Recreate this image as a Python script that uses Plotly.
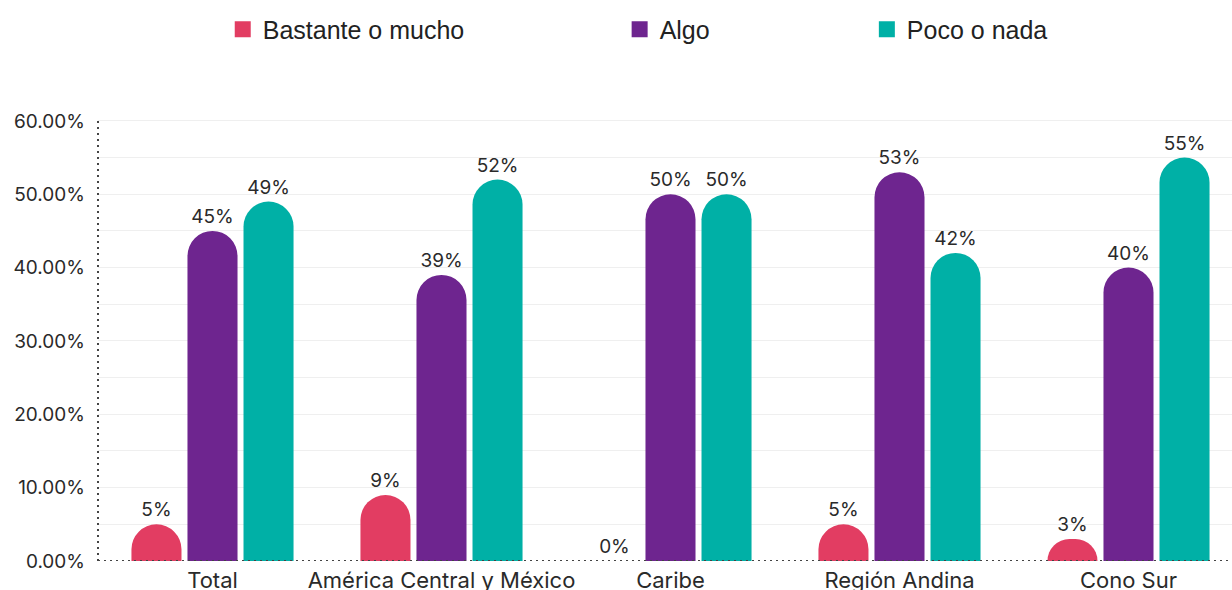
import plotly.graph_objects as go

regiones = ["Total", "América Central y México", "Caribe", "Región Andina", "Cono Sur"]
bastante_o_mucho = [5, 9, 0, 5, 3]
algo = [45, 39, 50, 53, 40]
poco_o_nada = [49, 52, 50, 42, 55]
series = [
    ("Bastante o mucho", bastante_o_mucho, "#E23D62"),
    ("Algo", algo, "#6E258F"),
    ("Poco o nada", poco_o_nada, "#00B0A6"),
]
y_ticks = [0, 10, 20, 30, 40, 50, 60]
y_tick_labels = ["0.00%", "10.00%", "20.00%", "30.00%", "40.00%", "50.00%", "60.00%"]

fig = go.Figure()

for name, vals, color in series:
    fig.add_trace(go.Bar(
        x=regiones, y=vals, name=name,
        marker=dict(color=color, cornerradius=25, line=dict(width=0)),
        texttemplate="%{y:.0f}%", textposition="outside",
        textfont=dict(family="Inter", size=19, color="#2a2a2a"),
        cliponaxis=False, constraintext="none", textangle=0,
        showlegend=False,
    ))

# legend entries, each placed in its own legend box
legend_ids = ["legend", "legend2", "legend3"]
legend_x = [0.110, 0.460, 0.678]
for (name, vals, color), lid in zip(series, legend_ids):
    fig.add_trace(go.Scatter(
        x=[None], y=[None], mode="markers", name=name,
        marker=dict(symbol="square", size=16, color=color),
        legend=lid, showlegend=True,
    ))

legend_style = dict(
    orientation="h", yanchor="middle", y=1.20, xanchor="left",
    font=dict(family="Liberation Sans", size=25, color="#222222"),
    bgcolor="rgba(0,0,0,0)", itemsizing="trace",
)
fig.update_layout(
    legend=dict(x=legend_x[0], **legend_style),
    legend2=dict(x=legend_x[1], **legend_style),
    legend3=dict(x=legend_x[2], **legend_style),
)

fig.update_layout(
    width=1232, height=590,
    margin=dict(l=98, r=0, t=118, b=29),
    plot_bgcolor="white", paper_bgcolor="white",
    barmode="group", bargap=0.266, bargroupgap=0.107,
    font=dict(family="Inter", color="#2a2a2a"),
    xaxis=dict(
        range=[-0.5, 4.452], showgrid=False, showline=False, zeroline=False,
        ticks="", tickfont=dict(family="Inter", size=22, color="#2a2a2a"),
        ticklabelstandoff=4, automargin=False,
    ),
    yaxis=dict(
        range=[0, 60.4], tickvals=y_ticks, ticktext=y_tick_labels,
        showgrid=True, gridcolor="#efefef", gridwidth=1,
        minor=dict(dtick=5, showgrid=True, gridcolor="#efefef", gridwidth=1),
        zeroline=False, showline=False, ticks="",
        tickfont=dict(family="Inter", size=19, color="#2a2a2a"),
        ticklabelstandoff=12, automargin=False,
    ),
    shapes=[
        dict(type="line", xref="paper", yref="paper", x0=0, x1=0, y0=0, y1=1,
             line=dict(color="#444444", width=2, dash="2px,4px"), layer="above"),
        dict(type="line", xref="paper", yref="y", x0=0, x1=1, y0=0, y1=0,
             line=dict(color="#444444", width=2, dash="2px,4px"), layer="above"),
    ],
)

fig.write_html("out.html")
